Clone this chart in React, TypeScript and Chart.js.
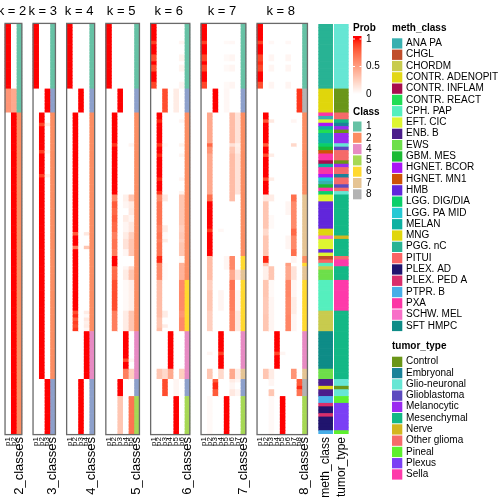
import React, { useEffect, useRef } from "react";
import { Chart, registerables } from "chart.js";

Chart.register(...registerables);

// ================= DATA =================
const K_LIST = [2, 3, 4, 5, 6, 7, 8];
const ROW_COUNT = 120;

// Segments of consecutive samples: [rowCount, class, p1, p2, ... pk]
const K2_SEGMENTS: number[][] = [
  [19, 1, 1, 0],
  [7, 1, 0.55, 0.45],
  [94, 2, 0, 1],
];

const K3_SEGMENTS: number[][] = [
  [19, 1, 1, 0, 0],
  [7, 3, 0, 0, 1],
  [3, 2, 0, 1, 0],
  [1, 2, 0, 0.88, 0.1],
  [7, 2, 0, 1, 0],
  [1, 2, 0, 0.9, 0.05],
  [6, 2, 0, 1, 0],
  [1, 2, 0, 0.9, 0.08],
  [59, 2, 0, 1, 0],
  [16, 3, 0, 0, 1],
];

const K4_SEGMENTS: number[][] = [
  [19, 1, 1, 0, 0, 0],
  [7, 3, 0, 0, 1, 0],
  [35, 2, 0, 1, 0, 0],
  [1, 2, 0, 0.8, 0, 0.12],
  [3, 2, 0, 1, 0, 0],
  [1, 2, 0, 0.65, 0, 0.3],
  [18, 2, 0, 1, 0, 0],
  [1, 2, 0, 0.85, 0, 0.1],
  [1, 2, 0, 0.95, 0, 0.03],
  [1, 2, 0, 0.8, 0, 0.12],
  [1, 2, 0, 0.9, 0, 0.08],
  [1, 2, 0, 0.85, 0, 0.1],
  [1, 2, 0, 0.92, 0, 0.05],
  [14, 4, 0, 0, 0, 1],
  [16, 3, 0, 0, 1, 0],
];

const K5_SEGMENTS: number[][] = [
  [19, 1, 1, 0, 0, 0, 0],
  [7, 3, 0, 0, 1, 0, 0],
  [9, 2, 0, 1, 0, 0, 0],
  [1, 2, 0, 0.92, 0, 0, 0.05],
  [14, 2, 0, 1, 0, 0, 0],
  [2, 2, 0, 0.6, 0, 0.08, 0.3],
  [2, 2, 0, 0.8, 0, 0.05, 0.1],
  [2, 2, 0, 0.75, 0, 0, 0.12],
  [2, 2, 0, 0.8, 0, 0.1, 0.05],
  [3, 2, 0, 0.75, 0, 0.05, 0.12],
  [2, 2, 0, 0.65, 0, 0.1, 0.25],
  [3, 2, 0, 0.7, 0, 0.15, 0.3],
  [2, 2, 0, 0.65, 0, 0.05, 0.3],
  [3, 2, 0, 1, 0, 0, 0],
  [1, 2, 0, 0.7, 0, 0.05, 0.2],
  [3, 2, 0, 0.75, 0, 0.1, 0.3],
  [9, 2, 0, 0.85, 0, 0.03, 0.08],
  [6, 2, 0, 0.65, 0, 0.1, 0.3],
  [8, 4, 0, 0, 0, 1, 0],
  [1, 4, 0, 0, 0, 0.85, 0.05],
  [2, 4, 0, 0, 0, 1, 0],
  [3, 4, 0, 0, 0, 0.65, 0.25],
  [5, 3, 0, 0, 1, 0, 0],
  [11, 5, 0, 0, 0.3, 0, 0.7],
];

const K6_SEGMENTS: number[][] = [
  [5, 1, 1, 0, 0, 0, 0, 0],
  [1, 1, 0.9, 0, 0, 0, 0, 0.05],
  [3, 1, 1, 0, 0, 0, 0, 0],
  [2, 1, 0.85, 0, 0, 0, 0, 0.06],
  [1, 1, 1, 0, 0, 0, 0, 0],
  [2, 1, 0.85, 0, 0, 0, 0, 0.06],
  [3, 1, 1, 0, 0, 0, 0, 0],
  [2, 1, 0.88, 0, 0, 0, 0, 0.05],
  [7, 3, 0, 0, 0.85, 0, 0.1, 0],
  [2, 2, 0, 1, 0, 0, 0, 0],
  [1, 2, 0, 0.95, 0, 0, 0, 0.05],
  [6, 2, 0, 1, 0, 0, 0, 0],
  [1, 2, 0, 0.93, 0.03, 0, 0, 0.06],
  [2, 2, 0, 1, 0, 0, 0, 0],
  [1, 2, 0, 0.95, 0, 0, 0, 0.05],
  [6, 2, 0, 1, 0, 0, 0, 0],
  [1, 2, 0, 0.95, 0, 0, 0, 0.05],
  [3, 2, 0, 1, 0, 0, 0, 0],
  [1, 2, 0, 0.93, 0, 0, 0, 0.07],
  [2, 2, 0, 0.6, 0.12, 0, 0, 0.3],
  [7, 2, 0, 0.7, 0, 0, 0, 0.3],
  [2, 2, 0, 0.65, 0.1, 0, 0, 0.25],
  [2, 2, 0, 0.7, 0.02, 0, 0, 0.28],
  [1, 2, 0, 0.65, 0.1, 0, 0, 0.25],
  [4, 2, 0, 0.7, 0, 0, 0, 0.3],
  [2, 2, 0, 0.95, 0, 0, 0, 0.03],
  [5, 2, 0, 0.6, 0.02, 0, 0, 0.4],
  [9, 6, 0, 0.35, 0, 0, 0, 0.6],
  [2, 6, 0, 0.35, 0.1, 0, 0, 0.55],
  [2, 6, 0, 0.3, 0, 0, 0, 0.6],
  [1, 6, 0, 0.3, 0.1, 0, 0, 0.6],
  [1, 6, 0, 0.35, 0, 0, 0, 0.6],
  [11, 4, 0, 0, 0, 1, 0, 0],
  [3, 4, 0, 0.3, 0.2, 0.45, 0, 0.25],
  [5, 3, 0, 0, 0.85, 0, 0.05, 0],
  [11, 5, 0, 0, 0, 0, 1, 0],
];

const K7_SEGMENTS: number[][] = [
  [5, 1, 1, 0, 0, 0, 0, 0, 0],
  [1, 1, 0.9, 0, 0, 0, 0.03, 0.04, 0],
  [3, 1, 1, 0, 0, 0, 0, 0, 0],
  [2, 1, 0.88, 0, 0, 0, 0.03, 0.05, 0],
  [1, 1, 1, 0, 0, 0, 0, 0, 0],
  [2, 1, 0.88, 0, 0, 0, 0.03, 0.05, 0],
  [3, 1, 1, 0, 0, 0, 0, 0, 0],
  [2, 1, 0.88, 0, 0, 0, 0.03, 0.05, 0],
  [7, 3, 0, 0, 1, 0, 0.04, 0, 0],
  [9, 2, 0, 0.45, 0, 0, 0, 0.35, 0.15],
  [1, 2, 0, 0.75, 0, 0, 0, 0.15, 0.08],
  [2, 2, 0, 0.55, 0, 0, 0, 0.3, 0.1],
  [12, 2, 0, 0.45, 0, 0, 0, 0.35, 0.15],
  [2, 2, 0, 0.72, 0, 0, 0, 0.35, 0],
  [8, 2, 0, 1, 0, 0, 0, 0, 0],
  [1, 2, 0, 0.92, 0, 0.04, 0, 0, 0],
  [7, 2, 0, 1, 0, 0, 0, 0, 0],
  [4, 6, 0, 0.35, 0, 0, 0.05, 0.6, 0],
  [3, 7, 0, 0.35, 0, 0, 0, 0.45, 0.15],
  [3, 6, 0, 0.25, 0, 0, 0, 0.7, 0],
  [6, 6, 0, 0.3, 0, 0.05, 0, 0.65, 0.05],
  [6, 6, 0, 0.25, 0, 0, 0, 0.6, 0.12],
  [6, 4, 0, 0, 0, 1, 0, 0, 0],
  [1, 4, 0, 0.05, 0, 0.9, 0, 0, 0],
  [4, 4, 0, 0, 0, 1, 0, 0, 0],
  [3, 7, 0, 0.3, 0, 0.2, 0, 0.45, 0.1],
  [1, 3, 0, 0, 0.8, 0, 0, 0.1, 0.05],
  [2, 3, 0, 0, 0.95, 0, 0, 0.05, 0],
  [2, 3, 0, 0, 0.8, 0, 0, 0.12, 0.05],
  [11, 5, 0, 0.03, 0, 0, 1, 0, 0],
];

const K8_SEGMENTS: number[][] = [
  [5, 1, 1, 0, 0, 0, 0, 0, 0, 0],
  [1, 1, 0.9, 0, 0.04, 0, 0, 0.04, 0, 0],
  [3, 1, 1, 0, 0, 0, 0, 0, 0, 0],
  [2, 1, 0.88, 0, 0.05, 0, 0, 0.05, 0, 0],
  [1, 1, 0.95, 0, 0, 0, 0, 0, 0, 0],
  [2, 1, 0.88, 0, 0.05, 0, 0, 0.05, 0, 0],
  [3, 1, 1, 0, 0, 0, 0, 0, 0, 0],
  [2, 1, 0.85, 0, 0.05, 0, 0, 0.05, 0, 0],
  [7, 8, 0, 0, 0, 0, 0, 0, 0, 0.92],
  [2, 2, 0, 1, 0, 0, 0, 0, 0, 0],
  [1, 2, 0, 0.82, 0.12, 0, 0, 0, 0.05, 0],
  [6, 2, 0, 1, 0, 0, 0, 0, 0, 0],
  [1, 2, 0, 0.8, 0, 0, 0, 0, 0.2, 0],
  [2, 2, 0, 1, 0, 0, 0, 0, 0, 0],
  [1, 2, 0, 0.85, 0.1, 0, 0, 0, 0, 0],
  [6, 2, 0, 1, 0, 0, 0, 0, 0, 0],
  [1, 2, 0, 0.85, 0.1, 0, 0, 0, 0, 0],
  [4, 2, 0, 1, 0, 0, 0, 0, 0, 0],
  [2, 7, 0, 0.12, 0.1, 0, 0, 0, 0.72, 0],
  [4, 7, 0, 0.3, 0, 0, 0, 0.05, 0.6, 0],
  [4, 7, 0, 0.3, 0.03, 0, 0, 0, 0.6, 0],
  [2, 7, 0, 0.2, 0, 0, 0, 0, 0.75, 0],
  [4, 7, 0, 0.3, 0, 0, 0, 0.05, 0.6, 0],
  [2, 7, 0, 0.3, 0, 0, 0, 0, 0.72, 0],
  [2, 2, 0, 0.95, 0, 0, 0, 0, 0.05, 0],
  [1, 6, 0, 0.3, 0, 0, 0, 0.5, 0, 0],
  [4, 7, 0, 0.08, 0.3, 0, 0, 0.45, 0.15, 0],
  [5, 6, 0, 0.3, 0.03, 0, 0, 0.62, 0.05, 0],
  [5, 6, 0, 0.28, 0.05, 0, 0, 0.6, 0.1, 0],
  [5, 6, 0, 0.3, 0.05, 0, 0, 0.62, 0.05, 0],
  [6, 4, 0, 0, 0, 1, 0, 0, 0, 0],
  [1, 4, 0, 0, 0, 0.88, 0.05, 0, 0, 0],
  [4, 4, 0, 0, 0, 1, 0, 0, 0, 0],
  [3, 7, 0, 0.3, 0.1, 0, 0, 0, 0.55, 0],
  [2, 8, 0, 0, 0.05, 0, 0, 0, 0, 0.8],
  [1, 8, 0, 0, 0, 0, 0, 0, 0, 0.95],
  [2, 8, 0, 0, 0.3, 0, 0, 0, 0, 0.7],
  [11, 5, 0, 0, 0.03, 0, 1, 0, 0, 0],
];

const K_SEGMENTS = [K2_SEGMENTS, K3_SEGMENTS, K4_SEGMENTS, K5_SEGMENTS, K6_SEGMENTS, K7_SEGMENTS, K8_SEGMENTS];

// [meth_class, rowCount]
const METH_SEGMENTS: [string, number][] = [
  ["PGG. nC", 19], ["MNG", 7], ["PXA", 1], ["ANA PA", 1], ["EFT. CIC", 1], ["HGNET. BCOR", 1],
  ["MELAN", 1], ["CONTR. REACT", 1], ["MELAN", 3], ["LGG. DIG/DIA", 1], ["GBM. MES", 1],
  ["HGNET. MN1", 1], ["PXA", 2], ["CONTR. INFLAM", 1], ["MELAN", 1], ["PXA", 2], ["HGNET. BCOR", 1],
  ["LGG. PA MID", 1], ["ANA PA", 1], ["GBM. MES", 1], ["PXA", 1], ["LGG. DIG/DIA", 1], ["EFT. CIC", 2],
  ["HMB", 8], ["MNG", 2], ["SCHW. MEL", 1], ["EFT. CIC", 3], ["HMB", 1], ["EFT. CIC", 1], ["CHGL", 1],
  ["PITUI", 1], ["CPH. PAP", 1], ["CHORDM", 1], ["EWS", 3], ["CPH. PAP", 9], ["CHORDM", 6],
  ["SFT HMPC", 11], ["EWS", 3], ["ENB. B", 2], ["CONTR. ADENOPIT", 1], ["ENB. B", 2], ["PTPR. B", 2],
  ["PLEX. PED A", 1], ["PLEX. AD", 2], ["PLEX. PED A", 1], ["PLEX. AD", 4], ["PTPR. B", 1],
];

// [tumor_type, rowCount]
const TUMOR_SEGMENTS: [string, number][] = [
  ["Glio-neuronal", 19], ["Control", 7], ["Other glioma", 2], ["Mesenchymal", 1], ["Embryonal", 1],
  ["Melanocytic", 1], ["Control", 1], ["Melanocytic", 3], ["Glio-neuronal", 1], ["Glioblastoma", 1],
  ["Other glioma", 3], ["Control", 1], ["Melanocytic", 1], ["Other glioma", 2], ["Embryonal", 1],
  ["Other glioma", 2], ["Glioblastoma", 1], ["Other glioma", 1], ["Glio-neuronal", 1], ["Mesenchymal", 12],
  ["Nerve", 1], ["Mesenchymal", 5], ["Other glioma", 1], ["Sella", 2], ["Mesenchymal", 4], ["Sella", 9],
  ["Mesenchymal", 20], ["Glio-neuronal", 2], ["Control", 1], ["Glio-neuronal", 2], ["Pineal", 2],
  ["Plexus", 8], ["Pineal", 1],
];

const CLASS_COLORS: Record<number, string> = {
  1: "#66C2A5", 2: "#FC8D62", 3: "#8DA0CB", 4: "#E78AC3",
  5: "#A6D854", 6: "#FFD92F", 7: "#E5C494", 8: "#B3B3B3",
};
const CLASS_LEGEND = [1, 2, 4, 5, 6, 7, 8];
const PROB_TICKS = [1, 0.5, 0];

const METH_NAMES = [
  "ANA PA", "CHGL", "CHORDM", "CONTR. ADENOPIT", "CONTR. INFLAM", "CONTR. REACT", "CPH. PAP",
  "EFT. CIC", "ENB. B", "EWS", "GBM. MES", "HGNET. BCOR", "HGNET. MN1", "HMB", "LGG. DIG/DIA",
  "LGG. PA MID", "MELAN", "MNG", "PGG. nC", "PITUI", "PLEX. AD", "PLEX. PED A", "PTPR. B", "PXA",
  "SCHW. MEL", "SFT HMPC",
];
const METH_COLORS = [
  "#38B0B0", "#C04E2B", "#C8CB4E", "#E2D717", "#A80D4E", "#20DD55", "#55EFBE",
  "#DEF531", "#4B1D8B", "#6DDF4A", "#1BBA33", "#A916F5", "#CF5307", "#6126DB", "#0ACF6A",
  "#25C9D4", "#0DB1A1", "#E0D60C", "#28B394", "#FB6464", "#20146E", "#D92E6B", "#47AEE8", "#FC35A5",
  "#F86FC8", "#0E8C87",
];
const TUMOR_NAMES = [
  "Control", "Embryonal", "Glio-neuronal", "Glioblastoma", "Melanocytic", "Mesenchymal",
  "Nerve", "Other glioma", "Pineal", "Plexus", "Sella",
];
const TUMOR_COLORS = [
  "#6A9618", "#1A8299", "#66E6D4", "#5C4ABF", "#9B2BF0", "#13B886",
  "#D3B61F", "#F56A6A", "#5DF02E", "#7B3FF5", "#FE3AAA",
];

// ================= LAYOUT / STYLE =================
const FONT = '"Liberation Sans", Arial, Helvetica, sans-serif';
const PANEL_GAP = 2;
const ANNOT_WIDTH = 2.5;
const ANNOT_GAP = 0.3;
const X_MIN = -0.9;
const X_MAX = 89.1;

// white -> red in CIE Lab
function toLin(c: number) { c /= 255; return c <= 0.04045 ? c / 12.92 : Math.pow((c + 0.055) / 1.055, 2.4); }
function fromLin(c: number) {
  const v = c <= 0.0031308 ? 12.92 * c : 1.055 * Math.pow(c, 1 / 2.4) - 0.055;
  return Math.round(Math.max(0, Math.min(1, v)) * 255);
}
function rgbToLab(rgb: number[]) {
  const [r, g, b] = rgb.map(toLin);
  const X = (0.4124 * r + 0.3576 * g + 0.1805 * b) / 0.95047;
  const Y = 0.2126 * r + 0.7152 * g + 0.0722 * b;
  const Z = (0.0193 * r + 0.1192 * g + 0.9505 * b) / 1.08883;
  const f = (t: number) => (t > 0.008856 ? Math.cbrt(t) : 7.787 * t + 16 / 116);
  const fx = f(X), fy = f(Y), fz = f(Z);
  return [116 * fy - 16, 500 * (fx - fy), 200 * (fy - fz)];
}
function labToRgb(lab: number[]) {
  const [L, a, b] = lab;
  const fy = (L + 16) / 116, fx = fy + a / 500, fz = fy - b / 200;
  const inv = (t: number) => (t * t * t > 0.008856 ? t * t * t : (t - 16 / 116) / 7.787);
  const X = inv(fx) * 0.95047, Y = inv(fy), Z = inv(fz) * 1.08883;
  const r = 3.2406 * X - 1.5372 * Y - 0.4986 * Z;
  const g = -0.9689 * X + 1.8758 * Y + 0.0415 * Z;
  const bb = 0.0557 * X - 0.204 * Y + 1.057 * Z;
  return `rgb(${fromLin(r)},${fromLin(g)},${fromLin(bb)})`;
}
const LAB_WHITE = rgbToLab([255, 255, 255]);
const LAB_RED = rgbToLab([255, 0, 0]);
function probColor(p: number) {
  const t = Math.max(0, Math.min(1, p));
  return labToRgb(LAB_WHITE.map((w, i) => w + (LAB_RED[i] - w) * t));
}

function expandSegments<T>(segs: T[], count: (s: T) => number): T[] {
  const out: T[] = [];
  segs.forEach((s) => { for (let i = 0; i < count(s); i++) out.push(s); });
  return out;
}

type Panel = { k: number; start: number; end: number; rows: number[][] };
const PANELS: Panel[] = [];
(() => {
  let x = 0;
  K_LIST.forEach((k, i) => {
    const start = x;
    x += k + 1;
    PANELS.push({ k, start, end: x, rows: expandSegments(K_SEGMENTS[i], (s) => s[0]) });
    x += PANEL_GAP;
  });
})();
const METH_START = PANELS[PANELS.length - 1].end + PANEL_GAP;
const TUMOR_START = METH_START + ANNOT_WIDTH + ANNOT_GAP;

function buildDatasets() {
  const ds: any[] = [];
  const push = (x0: number, x1: number, colors: string[]) => {
    ds.push({
      data: colors.map(() => [x0, x1]),
      backgroundColor: colors,
      borderWidth: 0,
      grouped: false,
      barPercentage: 1,
      categoryPercentage: 1,
    });
  };
  PANELS.forEach((p) => {
    for (let j = 0; j < p.k; j++) {
      push(p.start + j, p.start + j + 1, p.rows.map((r) => probColor(r[2 + j])));
    }
    push(p.start + p.k, p.start + p.k + 1, p.rows.map((r) => CLASS_COLORS[r[1]]));
  });
  const methRows = expandSegments(METH_SEGMENTS, (s) => s[1]);
  push(METH_START, METH_START + ANNOT_WIDTH, methRows.map((s) => METH_COLORS[METH_NAMES.indexOf(s[0])]));
  const tumorRows = expandSegments(TUMOR_SEGMENTS, (s) => s[1]);
  push(TUMOR_START, TUMOR_START + ANNOT_WIDTH, tumorRows.map((s) => TUMOR_COLORS[TUMOR_NAMES.indexOf(s[0])]));
  return ds;
}

function drawVertical(ctx: CanvasRenderingContext2D, text: string, x: number, y: number, font: string) {
  ctx.save();
  ctx.translate(x, y);
  ctx.rotate(-Math.PI / 2);
  ctx.font = font;
  ctx.textAlign = "right";
  ctx.textBaseline = "middle";
  ctx.fillText(text, 0, 0);
  ctx.restore();
}

const decorPlugin = {
  id: "decor",
  afterDraw(chart: any) {
    const ctx: CanvasRenderingContext2D = chart.ctx;
    const area = chart.chartArea;
    const xs = chart.scales.x;
    ctx.save();
    ctx.fillStyle = "#000";

    PANELS.forEach((p) => {
      const l = xs.getPixelForValue(p.start);
      const r = xs.getPixelForValue(p.end);
      ctx.strokeStyle = "#6a6a6a";
      ctx.lineWidth = 1.3;
      ctx.strokeRect(l, area.top - 0.6, r - l, area.bottom - area.top + 1.2);
      ctx.fillStyle = "#000";
      ctx.font = `13px ${FONT}`;
      ctx.textAlign = "center";
      ctx.textBaseline = "middle";
      ctx.fillText(`k = ${p.k}`, (l + r) / 2 - 1.5, 11);
      for (let j = 0; j < p.k; j++) {
        drawVertical(ctx, `p${j + 1}`, xs.getPixelForValue(p.start + j + 0.5), area.bottom + 3, `8px ${FONT}`);
      }
      drawVertical(ctx, `${p.k}_classes`, xs.getPixelForValue(p.start + p.k + 0.5), area.bottom + 3, `13px ${FONT}`);
    });
    drawVertical(ctx, "meth_class", xs.getPixelForValue(METH_START + ANNOT_WIDTH / 2), area.bottom + 3, `12px ${FONT}`);
    drawVertical(ctx, "tumor_type", xs.getPixelForValue(TUMOR_START + ANNOT_WIDTH / 2), area.bottom + 3, `12px ${FONT}`);

    // ---- Prob legend ----
    const lx = 353;
    ctx.textAlign = "left";
    ctx.textBaseline = "middle";
    ctx.font = `bold 10px ${FONT}`;
    ctx.fillText("Prob", lx, 28);
    const y0 = 94, span = 55;
    for (let y = 36; y < 94; y++) {
      ctx.fillStyle = probColor((y0 - y - 0.5) / span);
      ctx.fillRect(lx, y, 8.5, 1);
    }
    ctx.font = `10px ${FONT}`;
    PROB_TICKS.forEach((v) => {
      const y = y0 - v * span;
      if (v > 0) {
        ctx.fillStyle = "#fff";
        ctx.fillRect(lx, y - 0.5, 2, 1);
        ctx.fillRect(lx + 6.5, y - 0.5, 2, 1);
      }
      ctx.fillStyle = "#000";
      ctx.fillText(String(v), 366, y);
    });

    // ---- Class legend ----
    ctx.font = `bold 10px ${FONT}`;
    ctx.fillText("Class", lx, 112);
    ctx.font = `10px ${FONT}`;
    CLASS_LEGEND.forEach((c, i) => {
      const y = 126.5 + i * 11.3;
      ctx.fillStyle = CLASS_COLORS[c];
      ctx.fillRect(lx, y - 5, 8.5, 10);
      ctx.fillStyle = "#000";
      ctx.fillText(String(c), 366, y);
    });

    // ---- meth_class legend ----
    const mx = 392;
    ctx.font = `bold 10px ${FONT}`;
    ctx.fillText("meth_class", mx, 28);
    ctx.font = `10px ${FONT}`;
    METH_NAMES.forEach((n, i) => {
      const y = 43.3 + i * 11.3;
      ctx.fillStyle = METH_COLORS[i];
      ctx.fillRect(mx, y - 5, 10.3, 10.3);
      ctx.fillStyle = "#000";
      ctx.fillText(n, 406, y);
    });

    // ---- tumor_type legend ----
    ctx.font = `bold 10px ${FONT}`;
    ctx.fillText("tumor_type", mx, 346.7);
    ctx.font = `10px ${FONT}`;
    TUMOR_NAMES.forEach((n, i) => {
      const y = 361.7 + i * 11.26;
      ctx.fillStyle = TUMOR_COLORS[i];
      ctx.fillRect(mx, y - 5, 10.3, 10.3);
      ctx.fillStyle = "#000";
      ctx.fillText(n, 406, y);
    });
    ctx.restore();
  },
};

export default function App() {
  const ref = useRef<HTMLCanvasElement>(null);
  useEffect(() => {
    const labels = Array.from({ length: ROW_COUNT }, (_, i) => String(i));
    const chart = new Chart(ref.current!, {
      type: "bar",
      data: { labels, datasets: buildDatasets() },
      options: {
        indexAxis: "y",
        responsive: false,
        animation: false,
        devicePixelRatio: 1,
        events: [],
        layout: { padding: { top: 24, bottom: 70, left: 0, right: 0 } },
        scales: {
          x: { type: "linear", min: X_MIN, max: X_MAX, display: false },
          y: { type: "category", display: false },
        },
        plugins: { legend: { display: false }, tooltip: { enabled: false } },
      } as any,
      plugins: [decorPlugin],
    });
    return () => chart.destroy();
  }, []);
  return (
    <div style={{ position: "fixed", left: 0, top: 0, width: 504, height: 504, background: "#fff" }}>
      <canvas ref={ref} width={504} height={504} style={{ display: "block", width: 504, height: 504 }} />
    </div>
  );
}
